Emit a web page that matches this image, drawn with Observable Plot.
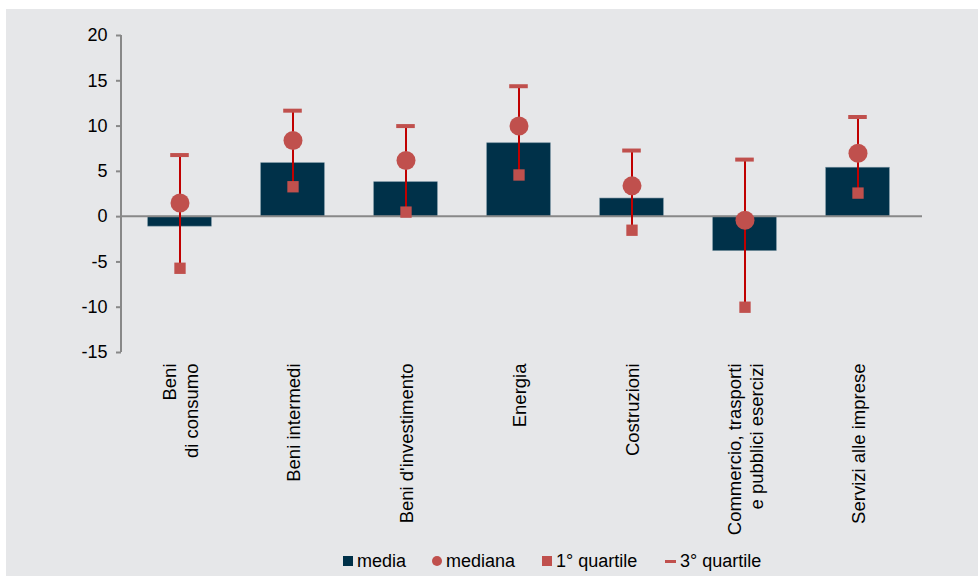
<!DOCTYPE html>
<html>
<head>
<meta charset="utf-8">
<script src="https://cdn.jsdelivr.net/npm/d3@7"></script>
<script src="https://cdn.jsdelivr.net/npm/@observablehq/plot@0.6"></script>
<style>
  html, body { margin: 0; padding: 0; background: #ffffff; }
  #wrap { position: absolute; left: 6px; top: 9px; width: 972px; height: 567px; background: #e6e7e9;
          font-family: "Liberation Sans", Arial, sans-serif; }
  #legend { position: absolute; left: 0; top: 540px; width: 972px; height: 24px; font-size: 18px; color: #000; }
  .item { position: absolute; top: 0; height: 24px; display: flex; align-items: center; white-space: nowrap; }
  .sw { display: inline-block; margin-right: 4px; }
</style>
</head>
<body>
<div id="wrap">
  <div id="chart"></div>
  <div id="legend">
    <div class="item" style="left:337px"><span class="sw" style="width:10px;height:10px;background:#003149"></span>media</div>
    <div class="item" style="left:426px"><span class="sw" style="width:10px;height:10px;border-radius:50%;background:#c0504d"></span>mediana</div>
    <div class="item" style="left:536px"><span class="sw" style="width:10px;height:10px;background:#c0504d"></span>1° quartile</div>
    <div class="item" style="left:659px"><span class="sw" style="width:11px;height:3px;background:#c0504d"></span>3° quartile</div>
  </div>
</div>
<script>
const categories = ["Beni\ndi consumo", "Beni intermedi", "Beni d'investimento", "Energia", "Costruzioni", "Commercio, trasporti\ne pubblici esercizi", "Servizi alle imprese"];
const media   = [-1.1, 5.9, 3.8, 8.1, 2.0, -3.8, 5.4];
const mediana = [1.5, 8.4, 6.2, 10.0, 3.4, -0.4, 7.0];
const q1      = [-5.7, 3.3, 0.5, 4.6, -1.5, -10.0, 2.6];
const q3      = [6.8, 11.7, 10.0, 14.4, 7.3, 6.3, 11.0];
const yTicks  = [-15, -10, -5, 0, 5, 10, 15, 20];

const data = categories.map((c, i) => ({cat: c, media: media[i], mediana: mediana[i], q1: q1[i], q3: q3[i]}));

const W = 972, H = 540;
const mL = 115, mR = 63;
const band = (W - mL - mR) / categories.length;

const yAxisLine = (index, scales, values, dims) => {
  const g = d3.create("svg:g");
  g.append("line")
    .attr("x1", dims.marginLeft).attr("x2", dims.marginLeft)
    .attr("y1", scales.y(20)).attr("y2", scales.y(-15))
    .attr("stroke", "#888888").attr("stroke-width", 2);
  g.append("line")
    .attr("x1", dims.marginLeft).attr("x2", dims.width - dims.marginRight + 7)
    .attr("y1", scales.y(0)).attr("y2", scales.y(0))
    .attr("stroke", "#888888").attr("stroke-width", 2);
  return g.node();
};

const chart = Plot.plot({
  width: W,
  height: H,
  marginLeft: mL,
  marginRight: mR,
  marginTop: 26,
  marginBottom: 197,
  style: {background: "transparent", fontFamily: "'Liberation Sans', Arial, sans-serif", fontSize: "18px", color: "#000"},
  x: {domain: categories, padding: 0, label: null},
  y: {domain: [-15, 20], label: null},
  marks: [
    Plot.barY(data, {x: "cat", y: "media", fill: "#003149", stroke: "#6d8a99", strokeWidth: 0.6,
      insetLeft: (band - 64) / 2, insetRight: (band - 64) / 2}),
    yAxisLine,
    Plot.axisY({ticks: yTicks, tickSize: 5, tickPadding: 9, stroke: "#888888", strokeWidth: 2, fontSize: 18, label: null, tickFormat: d => String(d)}),
    Plot.axisX({tickSize: 0, tickRotate: -90, tickPadding: 11, fontSize: 18.5, label: null, lineHeight: 1.2}),
    Plot.ruleX(data, {x: "cat", y1: "q1", y2: "q3", stroke: "#c00000", strokeWidth: 2}),
    Plot.tickY(data, {x: "cat", y: "q3", stroke: "#c0504d", strokeWidth: 4,
      insetLeft: (band - 19) / 2, insetRight: (band - 19) / 2}),
    Plot.dot(data, {x: "cat", y: "mediana", r: 9.5, fill: "#c0504d", stroke: "none"}),
    Plot.dot(data, {x: "cat", y: "q1", symbol: "square", r: 6.4, fill: "#c0504d", stroke: "none"})
  ]
});
document.getElementById("chart").appendChild(chart);
</script>
</body>
</html>
